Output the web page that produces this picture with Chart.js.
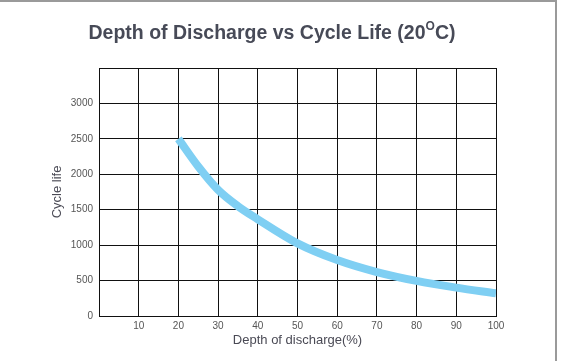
<!DOCTYPE html>
<html>
<head>
<meta charset="utf-8">
<script src="https://cdn.jsdelivr.net/npm/chart.js@4"></script>
<style>
  html, body { margin: 0; padding: 0; background: #fff; }
  #wrap { position: relative; width: 561px; height: 361px; overflow: hidden; }
  #frameTop { position: absolute; left: 0; top: 0; width: 557px; height: 2px; background: #9a9a9a; }
  #frameRight { position: absolute; left: 555px; top: 0; width: 2px; height: 361px; background: #9a9a9a; }
</style>
</head>
<body>
<div id="wrap">
  <canvas id="chart" width="561" height="361"></canvas>
  <div id="frameTop"></div>
  <div id="frameRight"></div>
</div>
<script>
// Depth of discharge (%) and cycle life
const depth = [20, 25, 30, 35, 40, 50, 60, 70, 80, 90, 100];
const cycles = [2500, 2110, 1780, 1550, 1365, 1025, 790, 620, 495, 400, 320];
const xTicks = [10, 20, 30, 40, 50, 60, 70, 80, 90, 100];
const yTicks = [0, 500, 1000, 1500, 2000, 2500, 3000];

const points = depth.map((d, i) => ({ x: d, y: cycles[i] }));

// title with a raised small "O" for the degree sign
const titlePlugin = {
  id: "titleText",
  afterDraw(chart) {
    const c = chart.ctx;
    c.save();
    c.fillStyle = "#474a57";
    c.textBaseline = "alphabetic";
    const big = "bold 19.5px 'Liberation Sans', Arial, sans-serif";
    const small = "bold 12px 'Liberation Sans', Arial, sans-serif";
    const a = "Depth of Discharge vs Cycle Life (20";
    const o = "O";
    const b = "C)";
    c.font = big;
    const wa = c.measureText(a).width;
    const wb = c.measureText(b).width;
    c.font = small;
    const wo = c.measureText(o).width;
    let x = 272 - (wa + wo + wb) / 2;
    const y = 39;
    c.font = big;
    c.fillText(a, x, y);
    x += wa;
    c.font = small;
    c.fillText(o, x, y - 9);
    x += wo;
    c.font = big;
    c.fillText(b, x, y);
    c.restore();
  },
};

new Chart(document.getElementById("chart"), {
  type: "line",
  data: {
    datasets: [
      {
        data: points,
        borderColor: "#7fcff3",
        borderWidth: 8,
        borderCapStyle: "butt",
        pointRadius: 0,
        fill: false,
        cubicInterpolationMode: "monotone",
      },
    ],
  },
  options: {
    responsive: false,
    animation: false,
    layout: { padding: { left: 0, top: 68, right: 65, bottom: 0 } },
    plugins: {
      legend: { display: false },
      tooltip: { enabled: false },
      title: { display: false },
    },
    scales: {
      x: {
        type: "linear",
        min: 0,
        max: 100,
        afterBuildTicks: (s) => {
          s.ticks = [0].concat(xTicks).map((v) => ({ value: v }));
        },
        afterFit: (s) => {
          s.height = 45;
        },
        grid: { color: "#111", lineWidth: 1, drawTicks: false },
        border: { color: "#111", width: 1 },
        ticks: {
          color: "#555",
          padding: 4,
          font: { size: 10, family: "'Liberation Sans', Arial, sans-serif" },
          callback: (v) => (xTicks.includes(v) ? v : ""),
          maxRotation: 0,
        },
        title: {
          display: true,
          text: "Depth of discharge(%)",
          color: "#4a4a55",
          font: { size: 13, family: "'Liberation Sans', Arial, sans-serif" },
          padding: { top: 0, bottom: 13 },
        },
      },
      y: {
        min: 0,
        max: 3500,
        afterBuildTicks: (s) => {
          s.ticks = yTicks.concat([3500]).map((v) => ({ value: v }));
        },
        afterFit: (s) => {
          s.width = 99;
        },
        grid: { color: "#111", lineWidth: 1, drawTicks: false },
        border: { color: "#111", width: 1 },
        ticks: {
          color: "#555",
          padding: 6,
          font: { size: 10, family: "'Liberation Sans', Arial, sans-serif" },
          callback: (v) => (yTicks.includes(v) ? v : ""),
        },
        title: {
          display: true,
          text: "Cycle life",
          color: "#4a4a55",
          font: { size: 13, family: "'Liberation Sans', Arial, sans-serif" },
          padding: { top: 50, bottom: 0 },
        },
      },
    },
  },
  plugins: [titlePlugin],
});
</script>
</body>
</html>
